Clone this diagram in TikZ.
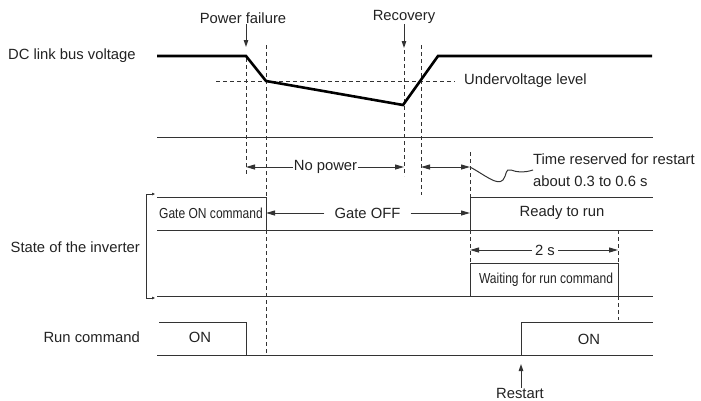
\documentclass[tikz,border=0pt]{standalone}
\usepackage{fontspec}
\setmainfont{Liberation Sans}
\newfontfamily\narrowfont[FakeStretch=0.83]{Liberation Sans}
\usepackage{tikz}
\usetikzlibrary{arrows.meta,positioning}
\definecolor{tdark}{HTML}{222222}
\definecolor{tline}{HTML}{333333}

\begin{document}
\begin{tikzpicture}[x=1pt, y=-1pt,
    lbl/.style={font=\fontsize{14.8}{17}\selectfont, text=tdark, inner sep=0pt},
    cell/.style={font=\narrowfont\fontsize{14.5}{16}\selectfont, text=tdark, inner sep=0pt},
    sig/.style={draw=tline, line width=1pt},
    vbus/.style={draw=black, line width=2.6pt, line join=miter},
    guide/.style={draw=tline, line width=1pt, dash pattern=on 4pt off 3pt},
    dimarr/.style={-{Triangle[length=9pt, width=5pt]}, draw=tline, line width=1pt},
    dimboth/.style={{Triangle[length=9pt, width=5pt]}-{Triangle[length=9pt, width=5pt]}, draw=tline, line width=1pt},
    arr/.style={-{Triangle[length=7pt, width=4.5pt]}, draw=tline, line width=1pt}
]
    \useasboundingbox (0,0) rectangle (701,400);

    % Row labels
    \node[lbl, anchor=west] (vdc) at (8,56) {DC link bus voltage};
    \node[lbl, anchor=east] (state) at (140,247) {State of the inverter};
    \node[lbl, anchor=east] (runcmd) at (140,337) {Run command};

    % Events
    \node[lbl] (pf) at (243,18) {Power failure};
    \node[lbl] (rec) at (404,17) {Recovery};
    \node[lbl] (rst) at (520,393) {Restart};
    \coordinate (pfTip) at (246,47);
    \coordinate (recTip) at (404,48);
    \coordinate (rstTip) at (521,364);
    \draw[arr] (pf.south -| pfTip) -- (pfTip);
    \draw[arr] (rec.south -| recTip) -- (recTip);
    \draw[arr] (rst.north -| rstTip) -- (rstTip);

    % Timing guides
    \foreach \x/\ya/\yb in {246/58/176, 266/45/197, 266/230/355, 404/50/176,
                            421/45/195, 470/152/197, 470/230/263, 618/230/263, 618/296/320} {
        \draw[guide] (\x,\ya) -- (\x,\yb);
    }
    \draw[guide] (216,81) -- (455,81);
    \node[lbl, anchor=west] (uvl) at (464,81) {Undervoltage level};

    % DC link bus voltage
    \draw[vbus] (157,56) -- (246,56) -- (266,81) -- (403,105) -- (438,56) -- (652,56);

    % Signal rows
    \draw[sig] (157,137) -- (653,137);
    \draw[sig] (157,197) -- (266,197) -- (266,230);
    \draw[sig] (470,230) -- (470,197) -- (653,197);
    \draw[sig] (157,230) -- (653,230);
    \draw[sig] (470,296) -- (470,263) -- (618,263) -- (618,296);
    \draw[sig] (157,296) -- (653,296);
    \draw[sig] (159,322) -- (246,322) -- (246,355);
    \draw[sig] (521,355) -- (521,322) -- (653,322);
    \draw[sig] (157,355) -- (653,355);

    % Inverter bracket
    \draw[line width=0.7pt, draw=tline, {Triangle[length=3pt, width=2.5pt]}-{Triangle[length=3pt, width=2.5pt]}]
        (155,194) -- (146,194) -- (146,298) -- (155,298);

    % Row texts
    \node[cell] (gon) at (211,213) {Gate ON command};
    \node[lbl] (rdy) at (562,213) {Ready to run};
    \node[cell] (wait) at (546,280) {Waiting for run command};
    \node[lbl] (on1) at (200,337) {ON};
    \node[lbl] (on2) at (589,339) {ON};

    % Intervals
    \coordinate (npL) at (246,167);
    \coordinate (npR) at (404,167);
    \coordinate (trL) at (421,167);
    \coordinate (trR) at (470,167);
    \coordinate (goL) at (266,213);
    \coordinate (goR) at (470,213);
    \coordinate (tsL) at (470,250);
    \coordinate (tsR) at (618,250);
    \node[lbl, inner xsep=0.5pt] (nopow) at (325.5,167) {No power};
    \draw[dimarr] (nopow.west) -- (npL);
    \draw[dimarr] (nopow.east) -- (npR);
    \draw[dimboth] (trL) -- (trR);
    \node[lbl, inner xsep=10pt] (goff) at (367.5,213) {Gate OFF};
    \draw[dimarr] (goff.west) -- (goL);
    \draw[dimarr] (goff.east) -- (goR);
    \node[lbl, inner xsep=3pt] (twos) at (545,250) {2 s};
    \draw[dimarr] (twos.west) -- (tsL);
    \draw[dimarr] (twos.east) -- (tsR);

    % Restart delay note
    \node[lbl, anchor=west, align=left, font=\fontsize{14.8}{22.5}\selectfont] (resv) at (533,170)
        {Time reserved for restart\\about 0.3 to 0.6 s};
    \draw[sig] (trR) .. controls (485,175) and (497,186) .. (503,180)
        .. controls (507,175) and (505,168) .. (511,170)
        .. controls (516,172) and (524,173) .. (resv.west);
\end{tikzpicture}
\end{document}
